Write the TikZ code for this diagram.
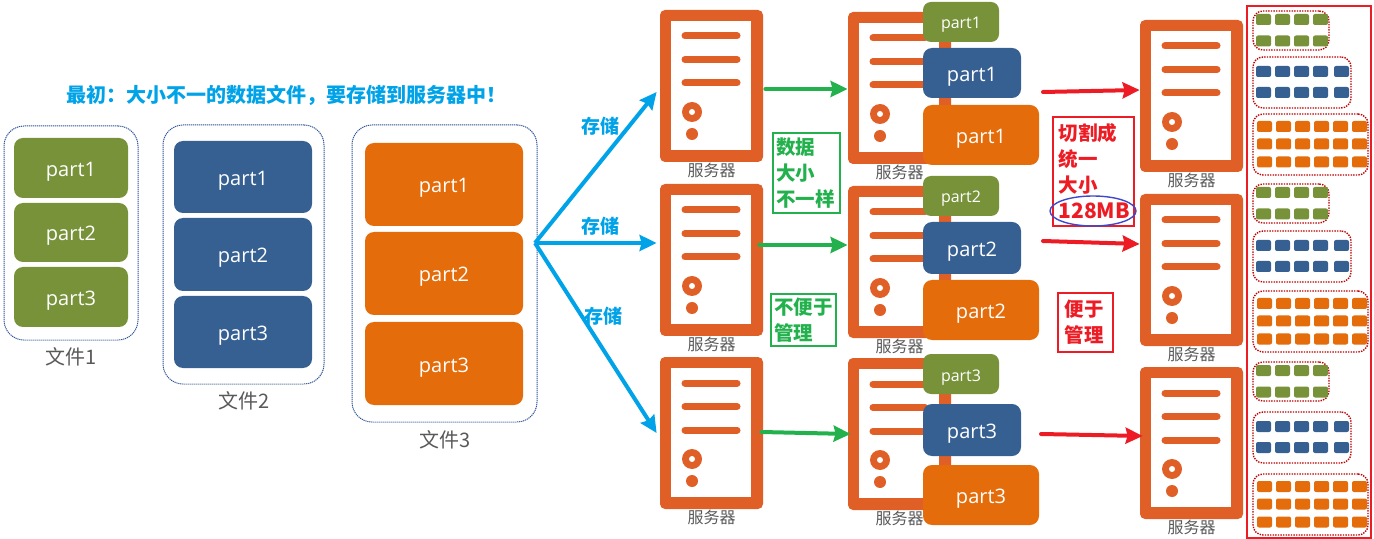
\documentclass[tikz,border=0pt]{standalone}
\usepackage{fontspec}
\setmainfont{Noto Sans CJK SC}
\newfontfamily\partfont{Open Sans}
\usetikzlibrary{arrows.meta,positioning,shapes.geometric}
\definecolor{srvorange}{HTML}{DF5F27}
\definecolor{partgreen}{HTML}{78923A}
\definecolor{partblue}{HTML}{376092}
\definecolor{partorange}{HTML}{E46C0A}
\definecolor{skyblue}{HTML}{00A2E8}
\definecolor{arrgreen}{HTML}{22B14C}
\definecolor{arrred}{HTML}{ED1C24}
\definecolor{ringblue}{HTML}{3F48CC}
\definecolor{labelgray}{HTML}{595959}
\definecolor{dotblue}{HTML}{2F5597}
\definecolor{dotred}{HTML}{C00000}

\begin{document}
\begin{tikzpicture}[x=0.5pt,y=-0.5pt,
  part/.style={rectangle,rounded corners=4.5pt,inner sep=0pt,text=white,
               text height=8.5pt,text depth=0pt,
               font=\partfont\fontsize{10}{12}\selectfont},
  grn/.style={part,fill=partgreen},
  blu/.style={part,fill=partblue},
  org/.style={part,fill=partorange},
  file/.style={rectangle,rounded corners=10pt,draw=dotblue,line width=0.5pt,
               dash pattern=on 0.6pt off 0.4pt,inner sep=0pt},
  group/.style={rectangle,rounded corners=5pt,draw=dotred,line width=0.7pt,
                dash pattern=on 0.7pt off 0.6pt,inner sep=0pt},
  cell/.style={rectangle,rounded corners=1pt,inner sep=0pt,
               minimum width=7.5pt,minimum height=5.5pt},
  caption/.style={font=\fontsize{10}{12}\selectfont,text=labelgray},
  store/.style={font=\bfseries\fontsize{9.5}{12}\selectfont,text=skyblue},
  note/.style={rectangle,draw,line width=0.9pt,inner sep=0pt,align=left,
               font=\bfseries\fontsize{9.75}{13}\selectfont},
  arrb/.style={-{Stealth[length=8.5pt,width=8pt,inset=1pt]},line width=2pt,skyblue},
  arrg/.style={-{Stealth[length=8.5pt,width=8pt,inset=1pt]},line width=2pt,line cap=round,arrgreen},
  arrr/.style={-{Stealth[length=8.5pt,width=8pt,inset=1pt]},line width=2pt,line cap=round,arrred},
  server/.pic={
    \node[rectangle,rounded corners=2.5pt,fill=srvorange,inner sep=0pt,
          minimum width=51.5pt,minimum height=76pt] (-box) at (51.5,76) {};
    \fill[white] (11,11) rectangle (91,140);
    \draw[srvorange,line width=3.5pt,line cap=round] (25,26) -- (77,26);
    \draw[srvorange,line width=3.5pt,line cap=round] (25,49.5) -- (77,49.5);
    \draw[srvorange,line width=3.5pt,line cap=round] (25,73) -- (77,73);
    \fill[srvorange] (32,102) circle (5pt);
    \fill[white] (32,102) circle (1.5pt);
    \fill[srvorange] (32,124) circle (3pt);
    \node[font=\fontsize{8}{10}\selectfont,text=labelgray] (-label) at (51.5,160) {服务器};
  }
]
  \useasboundingbox (0,0) rectangle (1374,539);

  % ---- Title ---------------------------------------------------
  \node[font=\bfseries\fontsize{10}{12}\selectfont,text=skyblue] (title) at (286,95)
    {最初：大小不一的数据文件，要存储到服务器中！};

  % ---- File 1 --------------------------------------------------
  \node[file,minimum width=67pt,minimum height=107pt] (F1) at (71,233) {};
  \node[grn,minimum width=57pt,minimum height=30pt] (F1a) at (71,168) {part1};
  \node[grn,minimum width=57pt,minimum height=29.5pt] (F1b) at (71,232.5) {part2};
  \node[grn,minimum width=57pt,minimum height=30pt] (F1c) at (71,297) {part3};
  \node[caption] (F1t) at (71,357) {文件1};

  % ---- File 2 --------------------------------------------------
  \node[file,minimum width=80.5pt,minimum height=129.5pt] (F2) at (243.5,254.5) {};
  \node[blu,minimum width=69pt,minimum height=36pt] (F2a) at (243,177) {part1};
  \node[blu,minimum width=69pt,minimum height=36.5pt] (F2b) at (243,254.5) {part2};
  \node[blu,minimum width=69pt,minimum height=36pt] (F2c) at (243,332) {part3};
  \node[caption] (F2t) at (244,401) {文件2};

  % ---- File 3 --------------------------------------------------
  \node[file,minimum width=92.5pt,minimum height=148.5pt] (F3) at (444.5,273.5) {};
  \node[org,minimum width=79pt,minimum height=41.5pt] (F3a) at (444,184.5) {part1};
  \node[org,minimum width=79pt,minimum height=41.5pt] (F3b) at (444,273.5) {part2};
  \node[org,minimum width=79pt,minimum height=41.5pt] (F3c) at (444,363.5) {part3};
  \node[caption] (F3t) at (445,440) {文件3};

  % ---- Servers -------------------------------------------------
  \pic (s1) at (660,10) {server};
  \pic (s2) at (660,184) {server};
  \pic (s3) at (660,357) {server};
  \pic (m1) at (848,12) {server};
  \pic (m2) at (848,186) {server};
  \pic (m3) at (848,358) {server};
  \pic (r1) at (1140,20) {server};
  \pic (r2) at (1140,194) {server};
  \pic (r3) at (1140,367) {server};

  % ---- Parts on the middle servers -----------------------------
  \node[grn,rounded corners=4pt,minimum width=38pt,minimum height=20pt,text height=7pt,
        font=\partfont\fontsize{8}{10}\selectfont] (m1a) at (961,22) {part1};
  \node[blu,minimum width=49pt,minimum height=25pt] (m1b) at (972,73) {part1};
  \node[org,minimum width=58pt,minimum height=30pt] (m1c) at (981,135) {part1};
  \node[grn,rounded corners=4pt,minimum width=38pt,minimum height=20pt,text height=7pt,
        font=\partfont\fontsize{8}{10}\selectfont] (m2a) at (961,196) {part2};
  \node[blu,minimum width=49pt,minimum height=26pt] (m2b) at (972,248) {part2};
  \node[org,minimum width=58pt,minimum height=30pt] (m2c) at (981,310) {part2};
  \node[grn,rounded corners=4pt,minimum width=38pt,minimum height=20pt,text height=7pt,
        font=\partfont\fontsize{8}{10}\selectfont] (m3a) at (961,374) {part3};
  \node[blu,minimum width=49pt,minimum height=26pt] (m3b) at (972,430) {part3};
  \node[org,minimum width=58pt,minimum height=30pt] (m3c) at (981,495) {part3};

  % ---- Store arrows --------------------------------------------
  \coordinate (fork) at (535,243);
  \draw[arrb] (fork) -- ([xshift=-1.5pt,yshift=-3pt]s1-box.west);
  \draw[arrb] (fork) -- ([xshift=-1.5pt,yshift=8.5pt]s2-box.west);
  \draw[arrb] (fork) -- ([xshift=-1.5pt]s3-box.west);
  \node[store] (st1) at (600,126) {存储};
  \node[store] (st2) at (600,226) {存储};
  \node[store] (st3) at (603,316) {存储};

  % Arrows to the middle servers
  \draw[arrg] ([xshift=1pt,yshift=-1.5pt]s1-box.east) -- ([yshift=-0.5pt]m1-box.west);
  \draw[arrg] ([xshift=-2pt,yshift=7.5pt]s2-box.east) -- ([yshift=8.5pt]m2-box.west);
  \draw[arrg] ([xshift=-1pt,yshift=0.5pt]s3-box.east) -- ([xshift=1.5pt]m3-box.west);

  % Arrows to the right servers
  \coordinate (cut1) at (1043,92);
  \coordinate (cut2) at (1043,241);
  \coordinate (cut3) at (1041,434);
  \draw[arrr] (cut1) -- ([yshift=3pt]r1-box.west);
  \draw[arrr] (cut2) -- ([yshift=13pt]r2-box.west);
  \draw[arrr] (cut3) -- ([xshift=1.5pt,yshift=3.5pt]r3-box.west);

  % ---- Notes ---------------------------------------------------
  \node[note,draw=arrgreen,text=arrgreen,minimum width=33.5pt,minimum height=40pt,
        text width=30.5pt] (diff) at (806.5,173) {数据\\大小\\不一样};
  \node[note,draw=arrgreen,text=arrgreen,minimum width=32.5pt,minimum height=26pt,
        text width=29.5pt] (hard) at (803.5,320) {不便于\\管理};
  \node[note,draw=arrred,text=arrred,minimum width=40.5pt,minimum height=54.5pt,
        text width=35pt] (cut) at (1093.5,171.5) {切割成\\统一\\大小\\{\fontsize{10.5}{13}\selectfont 128MB}};
  \node[note,draw=arrred,text=arrred,minimum width=27.5pt,minimum height=29.5pt,
        text width=21pt] (easy) at (1085.5,322.5) {便于\\管理};
  \node[ellipse,draw=ringblue,line width=0.7pt,inner sep=0pt,
        minimum width=43pt,minimum height=15pt] (ring) at (1093,211) {};

  % ---- Blocks on the right -------------------------------------
  \node[rectangle,draw=arrred,line width=1pt,inner sep=0pt,
        minimum width=62pt,minimum height=266pt] (panel) at (1309,272) {};
  \foreach \g/\top in {a/0,b/173,c/351} {
    \node[group,minimum width=38pt,minimum height=19.5pt] (gr\g) at (1291,{\top+30.5}) {};
    \foreach \c/\cx in {1/1263.5,2/1282.5,3/1301.5,4/1320.5}
      \foreach \r/\ry in {1/19.5,2/41}
        \node[cell,fill=partgreen] (gr\g\c\r) at (\cx,{\top+\ry}) {};
  }
  \foreach \g/\top in {a/0,b/174,c/355} {
    \node[group,minimum width=49pt,minimum height=25.5pt] (bl\g) at (1302,{\top+82.5}) {};
    \foreach \c/\cx in {1/1263.5,2/1282.5,3/1301.5,4/1320.5,5/1341.5}
      \foreach \r/\ry in {1/71.5,2/92.5}
        \node[cell,fill=partblue] (bl\g\c\r) at (\cx,{\top+\ry}) {};
  }
  \foreach \g/\top in {a/0,b/177,c/360} {
    \node[group,minimum width=57.5pt,minimum height=30.5pt] (og\g) at (1310.5,{\top+144.5}) {};
    \foreach \c/\cx in {1/1264.5,2/1283.5,3/1302.5,4/1321.5,5/1340.5,6/1359.5}
      \foreach \r/\ry in {1/126.5,2/144,3/162}
        \node[cell,fill=partorange] (og\g\c\r) at (\cx,{\top+\ry}) {};
  }

\end{tikzpicture}
\end{document}
